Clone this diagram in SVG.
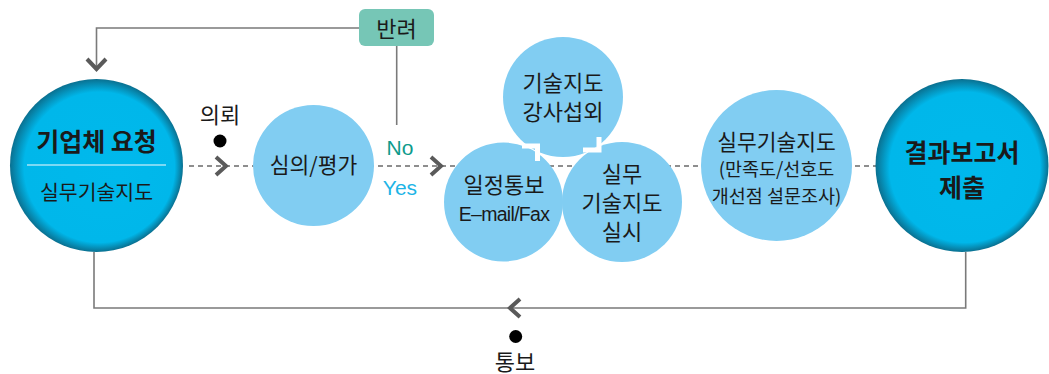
<svg xmlns="http://www.w3.org/2000/svg" width="1049" height="374" viewBox="0 0 1049 374">
<style>
text{font-family:"Noto Sans CJK KR","Noto Sans",sans-serif;fill:#1a1a1a;text-anchor:middle;dominant-baseline:central}
.light{fill:#81cdf2}
.dark{fill:url(#dg)}
.line{fill:none;stroke:#7a7a7a;stroke-width:1.6}
.dash{fill:none;stroke:#6a6a6a;stroke-width:1.4;stroke-dasharray:5 4}
.chev{fill:none;stroke:#5a5a5a;stroke-width:4}
.flow{fill:none;stroke:#ffffff;stroke-width:5}
.t18{font-size:20.5px}
.t20{font-size:22px}
.t21{font-size:21.5px}
.t17{font-size:18.5px}
.b23{font-size:25px;font-weight:bold}
.lat{font-family:"Liberation Sans",Arial,sans-serif}
</style>
<defs>
<radialGradient id="dg" cx="0.5" cy="0.5" r="0.5" fx="0.63" fy="0.58">
<stop offset="0" stop-color="#00b9ec"/>
<stop offset="0.87" stop-color="#00b7ea"/>
<stop offset="1" stop-color="#0a7090"/>
</radialGradient>
</defs>
<g id="connectors">
<polyline class="line" points="359,28 96.5,28 96.5,68"/>
<polyline class="chev" points="87,59 96.5,69 106,59"/>
<line class="line" x1="396.7" y1="46" x2="396.7" y2="125"/>
<line class="dash" x1="189" y1="166" x2="876" y2="166"/>
<polyline class="chev" points="216,157 226,166 216,175"/>
<polyline class="chev" points="431,157 441,166 431,175"/>
<polyline class="line" points="965.7,252 965.7,308 94,308 94,252"/>
<polyline class="chev" points="520,299 510,308 520,317"/>
<circle cx="220" cy="141" r="6.5" fill="#000"/>
<circle cx="515.7" cy="336.5" r="6.5" fill="#000"/>
<text class="t20" x="220" y="113">의뢰</text>
<text class="t20" x="515" y="360">통보</text>
<text class="lat" x="400" y="147" style="font-size:21px;fill:#0e9b8c">No</text>
<text class="lat" x="400" y="187" style="font-size:21px;fill:#1db4e6">Yes</text>
</g>
<g id="reject">
<rect x="359" y="9" width="75" height="37" rx="6" fill="#76c6b6"/>
<text class="t20" x="396.5" y="27">반려</text>
</g>
<g id="request">
<circle class="dark" cx="96.5" cy="165.5" r="86.5"/>
<line x1="27" y1="165" x2="166" y2="165" stroke="#a6e4f7" stroke-width="1.6"/>
<text class="b23" x="96.5" y="140">기업체 요청</text>
<text class="t18" x="96.5" y="191">실무기술지도</text>
</g>
<g id="review">
<circle class="light" cx="313.5" cy="165.5" r="60.5"/>
<text class="t21" x="313.5" y="163">심의/평가</text>
</g>
<g id="instructor">
<circle class="light" cx="563" cy="97" r="60"/>
<text class="t20" x="563" y="81">기술지도</text>
<text class="t20" x="563" y="110">강사섭외</text>
</g>
<g id="schedule">
<circle class="light" cx="503.5" cy="202" r="59.5"/>
<text class="t20" x="504" y="183">일정통보</text>
<text class="lat" x="504" y="214" style="font-size:19.5px;letter-spacing:-0.7px">E–mail/Fax</text>
</g>
<g id="practice">
<circle class="light" cx="622" cy="202" r="60"/>
<text class="t20" x="622" y="172">실무</text>
<text class="t20" x="622" y="201">기술지도</text>
<text class="t20" x="622" y="230">실시</text>
</g>
<g id="flow-marks">
<polyline class="flow" points="522,146 537.5,146 537.5,161"/>
<polyline class="flow" points="599,137 599,150 583,150"/>
</g>
<g id="survey">
<circle class="light" cx="776.5" cy="165.5" r="75.5"/>
<text class="t21" x="776.5" y="140">실무기술지도</text>
<text class="t17" x="776.5" y="168">(만족도/선호도</text>
<text class="t17" x="776.5" y="195">개선점 설문조사)</text>
</g>
<g id="report">
<circle class="dark" cx="962" cy="165.5" r="86.5"/>
<text class="b23" x="962" y="151">결과보고서</text>
<text class="b23" x="962" y="186">제출</text>
</g>
</svg>
